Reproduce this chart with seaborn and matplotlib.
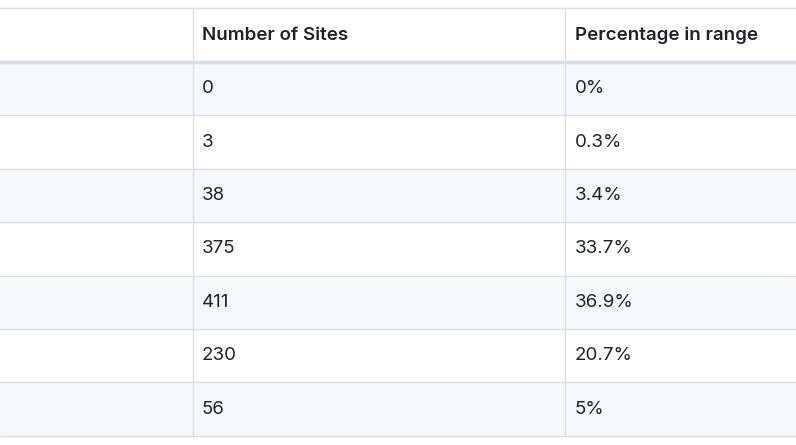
import matplotlib
matplotlib.use("Agg")
import matplotlib.pyplot as plt
import seaborn as sns
from matplotlib.patches import Rectangle

sns.set_theme(style="white")
plt.rcParams['font.family'] = ['Inter', 'DejaVu Sans']

headers = ["", "Number of Sites", "Percentage in range"]
sites = ["0", "3", "38", "375", "411", "230", "56"]
percent = ["0%", "0.3%", "3.4%", "33.7%", "36.9%", "20.7%", "5%"]

fig = plt.figure(figsize=(7.96, 4.45), dpi=100)
ax = fig.add_axes([0, 0, 1, 1])
ax.set_xlim(0, 796)
ax.set_ylim(445, 0)
ax.axis("off")

col_x = [0, 193, 565, 1000]
top, head_h, row_h = 8, 54, 53.4
border = "#d8dee4"
fs = 13.5

ax.text(col_x[1] + 9, top + head_h / 2, headers[1], fontsize=fs, fontweight="semibold",
        va="center", color="#1f2328")
ax.text(col_x[2] + 10, top + head_h / 2, headers[2], fontsize=fs, fontweight="semibold",
        va="center", color="#1f2328", clip_on=True)

for i, (s, p) in enumerate(zip(sites, percent)):
    y0 = top + head_h + i * row_h
    if i % 2 == 0:
        ax.add_patch(Rectangle((0, y0), 800, row_h, color="#f6f8fa", zorder=0))
    ax.axhline(y0 + row_h, color=border, lw=1)
    ax.text(col_x[1] + 9, y0 + row_h / 2, s, fontsize=fs, va="center", color="#1f2328")
    ax.text(col_x[2] + 10, y0 + row_h / 2, p, fontsize=fs, va="center", color="#1f2328")

ax.axhline(top, color=border, lw=1)
ax.axhline(top + head_h, color=border, lw=2.5)
bottom = top + head_h + len(sites) * row_h
for x in col_x[1:3]:
    ax.plot([x, x], [top, bottom], color=border, lw=1)

fig.savefig("out.png", dpi=100)
